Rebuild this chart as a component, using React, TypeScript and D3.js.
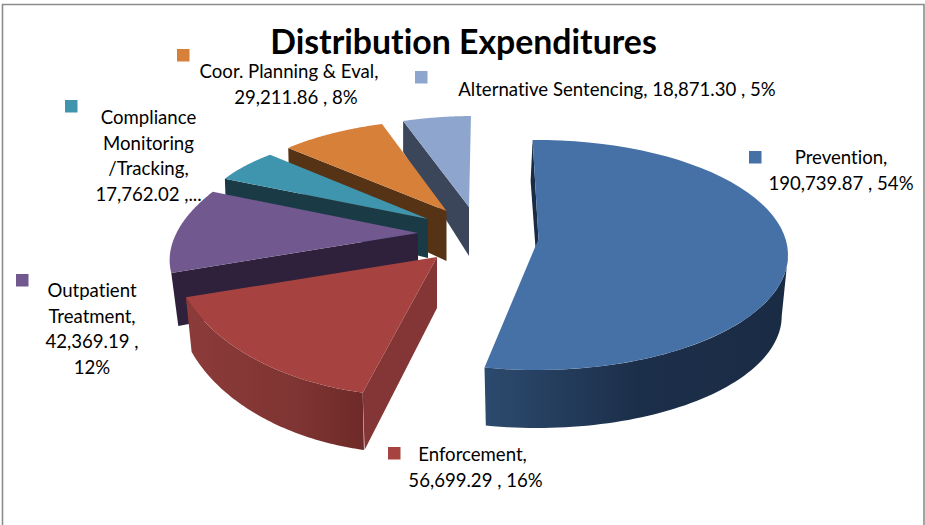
import React from "react";
import * as d3 from "d3";

const width = 925;
const height = 525;

const categories = ["Prevention", "Enforcement", "Outpatient Treatment", "Compliance Monitoring /Tracking", "Coor. Planning & Eval", "Alternative Sentencing"];
const values = [190739.87, 56699.29, 42369.19, 17762.02, 29211.86, 18871.3];
const topColors = ["#4671a6", "#a64341", "#71588f", "#4095ae", "#d7803a", "#8ea5cd"];
const sideColors = ["#1a2b44", "#833635", "#2f213b", "#1a3a46", "#573316", "#3b465a"];

// Perspective placement of each exploded slice (screen ellipse, apex, extrusion)
const ellipses = [
  { cx: 537, cy: 255, rx: 251, ry: 115, shear: 0, ax: 538.5, ay: 239, apexDepth: 50, cornerDepth: 41, wallDx: -2, floorDy: 61, floorRy: 112, radial: true, arcWall: true },
  { cx: 413.5, cy: 244, rx: 243, ry: 152, shear: 0, ax: 437, ay: 257, apexDepth: 51, cornerDepth: 57, wallDx: 2, floorDy: 53, floorRy: 156.5, radial: true, arcWall: true },
  { cx: 396, cy: 234, rx: 220, ry: 111, shear: -0.48, ax: 418, ay: 233, apexDepth: 48, cornerDepth: 53, wallDx: 7, floorDy: 53, floorRy: 108, radial: true, arcWall: false },
  { cx: 482, cy: 213, rx: 278, ry: 90, shear: 0, ax: 428, ay: 219, apexDepth: 39, cornerDepth: 30, wallDx: 1, floorDy: 40, floorRy: 88, radial: true, arcWall: false },
  { cx: 459, cy: 201, rx: 224, ry: 82, shear: 0, ax: 446.5, ay: 211, apexDepth: 50, cornerDepth: 40, wallDx: 1, floorDy: 45, floorRy: 80, radial: true, arcWall: false },
  { cx: 474.6, cy: 198, rx: 208, ry: 82, shear: 0, ax: 469, ay: 207, apexDepth: 49, cornerDepth: 31, wallDx: 0, floorDy: 40, floorRy: 80, radial: true, arcWall: false },
];

const labelLines = [
  ["Prevention,", "190,739.87 , 54%"],
  ["Enforcement,", "56,699.29 , 16%"],
  ["Outpatient", "Treatment,", "42,369.19 ,", "12%"],
  ["Compliance", "Monitoring", "/Tracking,", "17,762.02 ,..."],
  ["Coor. Planning & Eval,", "29,211.86 , 8%"],
  ["Alternative Sentencing, 18,871.30 , 5%"],
];
const labelPlace = [
  { x: 841, y: 164, kx: 749, ky: 151, shift: [0, 0] },
  { x: 472.5, y: 461, kx: 388, ky: 447, shift: [0, 3] },
  { x: 92, y: 297, kx: 16, ky: 274, shift: [0, 0, 0, 0] },
  { x: 148.5, y: 124, kx: 65, ky: 100, shift: [0, 0, 0, 0] },
  { x: 289, y: 78, kx: 177, ky: 49, shift: [0, 7] },
  { x: 617, y: 96, kx: 415, ky: 71, shift: [0] },
];

const deg = Math.PI / 180;
const pieGen = d3.pie<number>().sort(null).startAngle(-1 * deg).endAngle(359 * deg);
const arcs = pieGen(values);
const line = d3.line<[number, number]>();

type E = (typeof ellipses)[number];
function surf(e: E, t: number): [number, number] {
  const dy = -e.ry * Math.cos(t);
  return [e.cx + e.rx * Math.sin(t) + e.shear * dy, e.cy + dy];
}
function floor(e: E, t: number): [number, number] {
  const dy = -e.floorRy * Math.cos(t);
  return [e.cx + e.rx * 0.975 * Math.sin(t) + e.shear * dy, e.cy + e.floorDy + dy];
}
function sample(a: number, b: number): number[] {
  return d3.range(0, 61).map((i) => a + ((b - a) * i) / 60);
}

function topPath(e: E, a: number, b: number) {
  return line([[e.ax, e.ay], ...sample(a, b).map((t) => surf(e, t))])! + "Z";
}
function radialWall(e: E, a: number) {
  const c = surf(e, a);
  return line([
    c,
    [e.ax, e.ay],
    [e.ax, e.ay + e.apexDepth],
    [c[0] + e.wallDx, c[1] + e.cornerDepth],
  ])! + "Z";
}
function arcWall(e: E, a: number, b: number) {
  const from = Math.max(a, 90 * deg);
  const ts = sample(from, b);
  return line([...ts.map((t) => surf(e, t)), ...ts.slice().reverse().map((t) => floor(e, t))])! + "Z";
}

const drawOrder = [5, 4, 3, 2, 1, 0];

export default function App() {
  return (
    <svg width={width} height={height} style={{ position: "absolute", left: 0, top: 0, background: "#fff" }}>
      <defs>
        <linearGradient id="wall0" x1="0" x2="1" y1="0" y2="0">
          <stop offset="0" stopColor="#2c4a6e" />
          <stop offset="0.5" stopColor="#1c2f4a" />
          <stop offset="1" stopColor="#1a2b44" />
        </linearGradient>
        <linearGradient id="wall1" x1="0" x2="1" y1="0" y2="0">
          <stop offset="0" stopColor="#8c3b39" />
          <stop offset="0.6" stopColor="#7f3533" />
          <stop offset="1" stopColor="#6e2a28" />
        </linearGradient>
      </defs>
      <path d={`M2.5,525V4.5H924V525`} fill="none" stroke="#8c8c8c" strokeWidth={1.6} />
      {drawOrder.map((i) => {
        const e = ellipses[i];
        const a = arcs[i];
        return (
          <g key={categories[i]}>
            {e.radial && <path d={radialWall(e, a.startAngle)} fill={sideColors[i]} />}
            {e.arcWall && <path d={arcWall(e, a.startAngle, a.endAngle)} fill={`url(#wall${i})`} />}
            <path d={topPath(e, a.startAngle, a.endAngle)} fill={topColors[i]} />
          </g>
        );
      })}
      <text x={463.5} y={54} textAnchor="middle" fontFamily="Lato" fontWeight={700} fontSize={33.8} fill="#000" style={{ fontVariantLigatures: "none" }}>
        Distribution Expenditures
      </text>
      {labelLines.map((lines, i) => {
        const p = labelPlace[i];
        return (
          <g key={i}>
            <rect x={p.kx} y={p.ky} width={12.5} height={12.5} fill={topColors[i]} />
            {lines.map((l, j) => (
              <text key={j} x={p.x + p.shift[j]} y={p.y + j * 25.6} textAnchor="middle" fontFamily="Lato" fontSize={18.6} fill="#000" style={{ fontVariantLigatures: "none" }}>
                {l}
              </text>
            ))}
          </g>
        );
      })}
    </svg>
  );
}
